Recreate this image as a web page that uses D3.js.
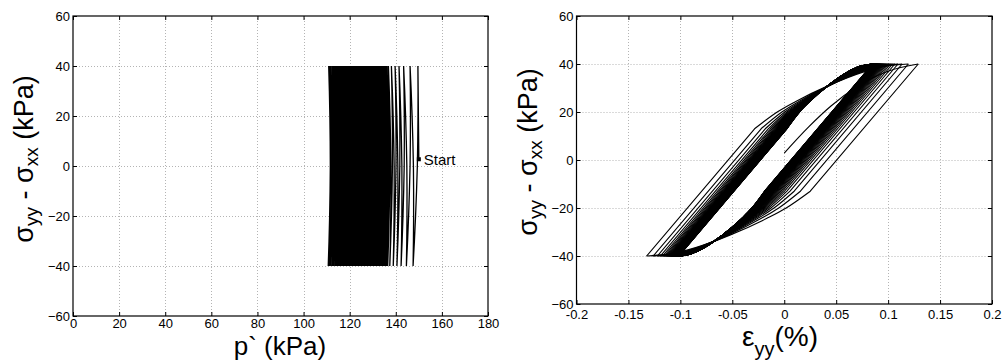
<!DOCTYPE html>
<html><head><meta charset="utf-8">
<script src="https://cdn.jsdelivr.net/npm/d3@7"></script>
<style>
body{margin:0;background:#fff}
text{font-family:"Liberation Sans",Arial,Helvetica,sans-serif;fill:#000}
</style>
</head><body>
<svg id="chart" width="1003" height="361"></svg>
<script>
// ---------- data ----------
const pTicks = [0,20,40,60,80,100,120,140,160,180];
const qTicks = [-60,-40,-20,0,20,40,60];
const epsTicks = [-0.2,-0.15,-0.1,-0.05,0,0.05,0.1,0.15,0.2];
const epsTickLabels = ["-0.2","-0.15","-0.1","-0.05","0","0.05","0.1","0.15","0.2"];

const startP = 150, startQ = 2.7;
const qAmp = 40;

// mean effective stress p' at each +40 peak / -40 trough, cycle by cycle
const pTop = [149.6,146.2,143.4,141.4,139.7,138.1,136.8,136.2,135.7,135.2,
  134.7,134.2,133.7,133.2,132.7,132.2,131.7,131.25,130.8,130.35,
  129.9,129.45,129.0,128.55,128.1,127.65,127.2,126.77,126.34,125.91,
  125.48,125.05,124.62,124.19,123.76,123.33,122.9,122.5,122.1,121.7,
  121.3,120.9,120.5,120.1,119.7,119.3,118.9,118.52,118.14,117.76,
  117.38,117.0,116.62,116.24,115.86,115.48,115.1,114.74,114.38,114.02,
  113.5,113.0,112.5,111.9,111.4,110.9];
const pBot = [147.5,144.6,142.3,140.5,138.9,137.4,136.5,135.95,135.45,134.95,
  134.45,133.95,133.45,132.95,132.45,131.95,131.47,131.02,130.57,130.12,
  129.67,129.22,128.77,128.32,127.87,127.42,126.98,126.55,126.12,125.69,
  125.26,124.83,124.4,123.97,123.54,123.11,122.7,122.3,121.9,121.5,
  121.1,120.7,120.3,119.9,119.5,119.1,118.71,118.33,117.95,117.57,
  117.19,116.81,116.43,116.05,115.67,115.29,114.92,114.56,114.2,113.84,
  113.25,112.75,112.2,111.6,111.1,110.7];

// strain (%) at each +40 peak / -40 trough
const epsTop = [0.129,0.1195,0.1135,0.1095,0.1065,0.1042,0.1023,0.1007,0.0993,0.0981,
  0.0970,0.0961,0.0953,0.0946,0.0940,0.0934,0.0929,0.0924,0.0920,0.0916,
  0.0912,0.0908,0.0905,0.0902,0.0899,0.0896,0.0893,0.0891,0.0889,0.0887,
  0.0885,0.0883,0.0881,0.0879,0.0877,0.0876,0.0874,0.0873,0.0871,0.0870,
  0.0869,0.0868,0.0867,0.0866,0.0865,0.0864,0.0863,0.0862,0.0861,0.0860,
  0.0859,0.0858,0.0858,0.0857,0.0856,0.0856,0.0855,0.0855,0.0854,0.0854,
  0.0853,0.0853,0.0852,0.0852,0.0851,0.0851];
const epsBot = [-0.1325,-0.1262,-0.1222,-0.1193,-0.1172,-0.1156,-0.1143,-0.1132,-0.1123,-0.1115,
  -0.1108,-0.1102,-0.1097,-0.1092,-0.1088,-0.1084,-0.1080,-0.1077,-0.1074,-0.1071,
  -0.1068,-0.1065,-0.1063,-0.1061,-0.1059,-0.1057,-0.1055,-0.1053,-0.1051,-0.1049,
  -0.1047,-0.1046,-0.1044,-0.1043,-0.1041,-0.1040,-0.1039,-0.1037,-0.1036,-0.1035,
  -0.1034,-0.1033,-0.1032,-0.1031,-0.1030,-0.1029,-0.1028,-0.1027,-0.1026,-0.1025,
  -0.1024,-0.1023,-0.1022,-0.1022,-0.1021,-0.1020,-0.1020,-0.1019,-0.1018,-0.1018,
  -0.1017,-0.1017,-0.1016,-0.1016,-0.1015,-0.1015];

// initial monotonic loading (strain %, q kPa)
const initEps = [0, 0.024, 0.045, 0.07, 0.1, 0.129];
const initQ = [2.9, 14, 22.5, 30.5, 37, 40];

// branch shape read from the first loop: straight elastic part, then curved part
const elasticSlope = 510;      // kPa per % strain
const elbowQ = 13;
const curveF = [0.15, 0.265, 0.488, 0.70, 0.85, 1];
const curveQ = [20.1, 24.3, 31.2, 36.5, 39, 40];

// bow of the p'-q half cycles
const bowQ = [-40,-30,-20,-10,0,10,20,30,40];
const bowFrac = [0,0.4,0.7,0.9,1,0.9,0.7,0.4,0];
const bowAmp = 0.8;

// ---------- drawing ----------
const svg = d3.select("#chart");
const gridCol = "#b4b4b4";
const FONT = '"Liberation Sans",Arial,sans-serif';

function frame(x, y, xt, yt, xLabels, padX, padY) {
  const g = svg.append("g");
  const [x0,x1] = x.range(), [y0,y1] = y.range();
  g.selectAll(null).data(xt.slice(1,-1)).join("line")
    .attr("x1", d=>Math.round(x(d))+0.5).attr("x2", d=>Math.round(x(d))+0.5).attr("y1", y0).attr("y2", y1)
    .attr("stroke", gridCol).attr("stroke-width",1).attr("stroke-dasharray","1,2");
  g.selectAll(null).data(yt.slice(1,-1)).join("line")
    .attr("y1", d=>Math.round(y(d))+0.5).attr("y2", d=>Math.round(y(d))+0.5).attr("x1", x0).attr("x2", x1)
    .attr("stroke", gridCol).attr("stroke-width",1).attr("stroke-dasharray","1,2");
  const ax = d3.axisBottom(x).tickValues(xt).tickSizeInner(-4).tickSizeOuter(0).tickPadding(padX)
    .tickFormat((d,i)=>xLabels ? xLabels[i] : d);
  const ay = d3.axisLeft(y).tickValues(yt).tickSizeInner(-4).tickSizeOuter(0).tickPadding(padY);
  const at = d3.axisTop(x).tickValues(xt).tickSizeInner(-4).tickSizeOuter(0).tickFormat("");
  const ar = d3.axisRight(y).tickValues(yt).tickSizeInner(-4).tickSizeOuter(0).tickFormat("");
  [[ax,`translate(0,${y0})`],[ay,`translate(${x0},0)`],[at,`translate(0,${y1})`],[ar,`translate(${x1},0)`]].forEach(([a,t])=>{
    const gg = g.append("g").attr("transform", t).call(a);
    gg.select(".domain").remove();
    gg.selectAll("line").attr("stroke","#000");
    gg.selectAll("text").attr("font-size", 13).attr("fill","#000").attr("font-family", FONT);
  });
  g.append("rect").attr("x",x0).attr("y",y1).attr("width",x1-x0).attr("height",y0-y1)
    .attr("fill","none").attr("stroke","#000").attr("stroke-width",1.2);
}

// ---- left: p' vs q ----
const xL = d3.scaleLinear([0,180],[73,488]);
const yL = d3.scaleLinear([-60,60],[316,16]);
frame(xL, yL, pTicks, qTicks, null, 3, 3);

function halfCycle(pa, qa, pb, qb) {
  const idx = bowQ.map((q,i)=>i);
  const order = qa < qb ? idx : idx.reverse();
  return order.map(k => {
    const q = bowQ[k];
    const t = (q - qa) / (qb - qa);
    return [pa + t*(pb-pa) + bowAmp*bowFrac[k], q];
  });
}
let ptsL = [[startP, startQ], [pTop[0], qAmp]];
for (let i = 0; i < pTop.length; i++) {
  ptsL = ptsL.concat(halfCycle(pTop[i], qAmp, pBot[i], -qAmp).slice(1));
  if (i+1 < pTop.length) ptsL = ptsL.concat(halfCycle(pBot[i], -qAmp, pTop[i+1], qAmp).slice(1));
}
const lineL = d3.line().x(d=>xL(d[0])).y(d=>yL(d[1]));
svg.append("path").attr("d", lineL(ptsL)).attr("fill","none").attr("stroke","#000").attr("stroke-width",1.3);

svg.append("rect").attr("x", xL(startP)-2).attr("y", yL(startQ)-2).attr("width",4).attr("height",4).attr("fill","#000");
svg.append("text").attr("x", xL(startP)+5).attr("y", yL(startQ)+6).attr("font-size",15).text("Start");

// ---- right: strain vs q ----
const xR = d3.scaleLinear([-0.2,0.2],[576.5,992]);
const yR = d3.scaleLinear([-60,60],[304,16]);
frame(xR, yR, epsTicks, qTicks, epsTickLabels, 6, 3);

const smooth = d3.line().x(d=>xR(d[0])).y(d=>yR(d[1])).curve(d3.curveMonotoneX);
function upBranch(a, b) {          // from (a,-40) to (b,+40)
  const e = a + (elbowQ + qAmp) / elasticSlope;
  const curvePts = [[e, elbowQ]].concat(curveF.map((f,i)=>[e + f*(b-e), curveQ[i]]));
  return `M${xR(a)},${yR(-qAmp)}L` + smooth(curvePts).slice(1);
}
function downBranch(b, c) {        // from (b,+40) to (c,-40)
  const e = b - (elbowQ + qAmp) / elasticSlope;
  const curvePts = [[e, -elbowQ]].concat(curveF.map((f,i)=>[e - f*(e-c), -curveQ[i]])).reverse();
  return smooth(curvePts) + `L${xR(b)},${yR(qAmp)}`;
}
const branchPaths = [smooth(initEps.map((e,i)=>[e, initQ[i]]))];
for (let i = 0; i < epsTop.length; i++) {
  if (i > 0) branchPaths.push(upBranch(epsBot[i-1], epsTop[i]));
  branchPaths.push(downBranch(epsTop[i], epsBot[i]));
}
svg.append("g").selectAll("path").data(branchPaths).join("path")
  .attr("d", d=>d).attr("fill","none").attr("stroke","#000").attr("stroke-width",1.15);

// ---- axis titles ----
svg.append("text").attr("x", 280).attr("y", 355).attr("text-anchor","middle").attr("font-size",26).text("p` (kPa)");

function sigmaLabel(x, y) {
  const t = svg.append("text").attr("transform", `translate(${x},${y}) rotate(-90)`)
    .attr("text-anchor","middle").attr("font-size",27);
  t.append("tspan").text("σ");
  t.append("tspan").attr("font-size",19).attr("dy",5).text("yy");
  t.append("tspan").attr("dy",-5).text(" - σ");
  t.append("tspan").attr("font-size",19).attr("dy",5).text("xx");
  t.append("tspan").attr("dy",-5).text(" (kPa)");
}
sigmaLabel(33, 159);
sigmaLabel(537, 152);

const ex = svg.append("text").attr("x", 780).attr("y", 346).attr("text-anchor","middle").attr("font-size",28);
ex.append("tspan").text("ε");
ex.append("tspan").attr("font-size",20).attr("dy",10).text("yy");
ex.append("tspan").attr("dy",-10).text("(%)");
</script>
</body></html>
